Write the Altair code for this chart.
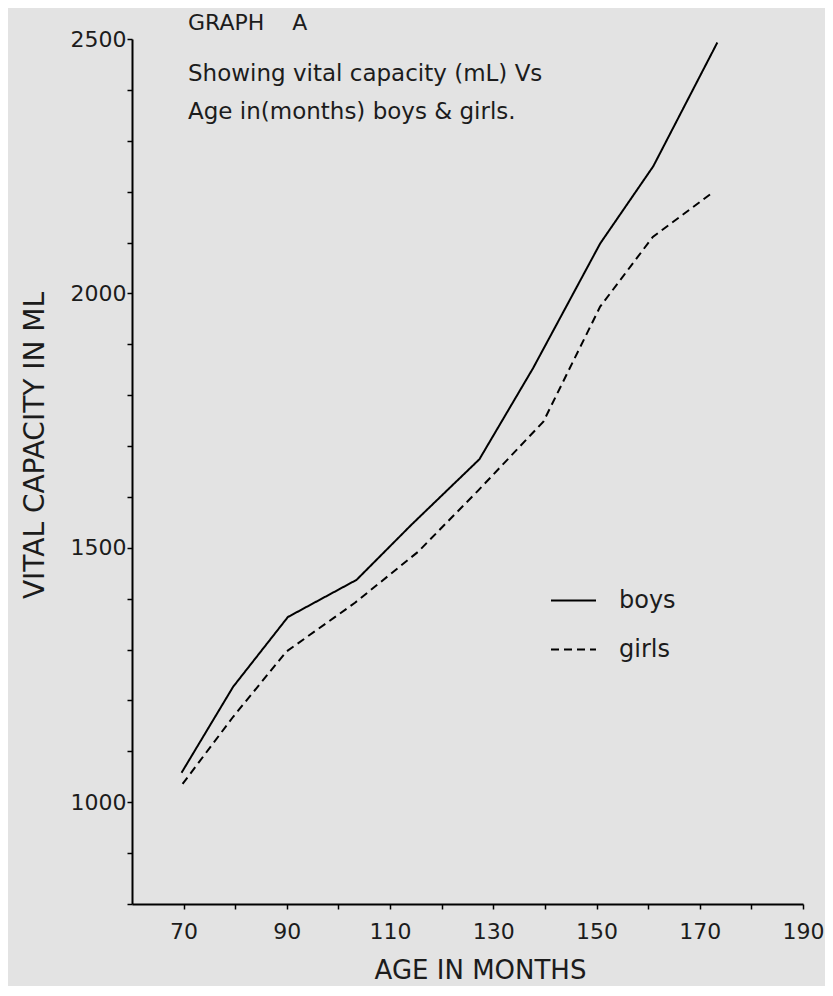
import altair as alt
import pandas as pd

# ---- data ----
ages_boys = [69.6, 79.6, 90.2, 103.5, 114.1, 127.3, 137.7, 150.7, 161.0, 173.4]
vc_boys = [1058, 1227, 1364, 1437, 1545, 1674, 1853, 2098, 2250, 2493]
ages_girls = [69.8, 79.6, 89.9, 103.2, 115.4, 127.1, 139.7, 150.7, 160.9, 172.6]
vc_girls = [1036, 1168, 1296, 1392, 1492, 1613, 1748, 1974, 2111, 2199]

groups = ["boys", "girls"]
x_ticks = list(range(70, 191, 10))
y_ticks = list(range(800, 2501, 100))
title_lines = ["GRAPH\u00a0\u00a0\u00a0\u00a0A", "Showing vital capacity (mL) Vs", "Age in(months) boys & girls."]

rows = []
for a, v in zip(ages_boys, vc_boys):
    rows.append({"age": a, "vc": v, "group": "boys", "order": len(rows)})
for a, v in zip(ages_girls, vc_girls):
    rows.append({"age": a, "vc": v, "group": "girls", "order": len(rows)})
df = pd.DataFrame(rows)

FONT = "DejaVu Sans"
INK = "#1c1c1c"

lines = alt.Chart(df).mark_line(color="black", strokeWidth=2).encode(
    x=alt.X(
        "age:Q",
        scale=alt.Scale(domain=[60, 190], nice=False, zero=False),
        axis=alt.Axis(
            values=x_ticks,
            labelExpr="datum.value % 20 == 10 ? datum.label : ''",
            title="AGE IN MONTHS",
            titleX=348,
            titleY=66,
            titleAnchor="middle",
            titleAlign="center",
            titleBaseline="middle",
            titleFontSize=26,
            titleFont=FONT,
            titleFontWeight="normal",
            titleColor=INK,
            labelFontSize=22,
            labelFont=FONT,
            labelColor=INK,
            labelPadding=12,
            tickSize=5,
            tickColor="black",
            tickWidth=1.5,
            domainColor="black",
            domainWidth=2,
            grid=False,
            labelFlush=False,
            labelOverlap=False,
        ),
    ),
    y=alt.Y(
        "vc:Q",
        scale=alt.Scale(domain=[800, 2500], nice=False, zero=False),
        axis=alt.Axis(
            values=y_ticks,
            format="d",
            labelExpr="datum.value % 500 == 0 ? datum.label : ''",
            title="VITAL CAPACITY IN ML",
            titleX=-97,
            titleY=406,
            titleAngle=-90,
            titleAlign="center",
            titleBaseline="middle",
            titleFontSize=28,
            titleFont=FONT,
            titleFontWeight="normal",
            titleColor=INK,
            labelFontSize=22,
            labelFont=FONT,
            labelColor=INK,
            labelPadding=1,
            tickSize=5,
            tickColor="black",
            tickWidth=1.5,
            domainColor="black",
            domainWidth=2,
            grid=False,
            labelFlush=False,
            labelOverlap=False,
        ),
    ),
    strokeDash=alt.StrokeDash(
        "group:N",
        scale=alt.Scale(domain=groups, range=[[1, 0], [8, 5]]),
        legend=alt.Legend(
            title=None,
            orient="none",
            legendX=418,
            legendY=538,
            symbolType="stroke",
            symbolSize=2025,
            symbolStrokeWidth=2,
            symbolStrokeColor="black",
            labelFontSize=24,
            labelFont=FONT,
            labelColor=INK,
            labelOffset=22,
            rowPadding=13,
        ),
    ),
    order="order:Q",
)

title_df = pd.DataFrame({"line": title_lines, "row": [0, 1, 2]})
title_y = [-16, 35, 73]
title_layers = []
for i, yv in enumerate(title_y):
    title_layers.append(
        alt.Chart(title_df)
        .transform_filter(alt.datum.row == i)
        .mark_text(align="left", baseline="middle", font=FONT, fontSize=23 if i else 22, color=INK)
        .encode(x=alt.value(56), y=alt.value(yv), text="line:N")
    )

chart = (
    alt.layer(lines, *title_layers)
    .properties(
        width=671,
        height=865,
        autosize="none",
        padding={"left": 124, "top": 31, "right": 22, "bottom": 82},
        background="#e3e3e3",
    )
    .configure_view(stroke=None)
)

chart.save("out.html", embed_options={"renderer": "svg", "actions": False})
